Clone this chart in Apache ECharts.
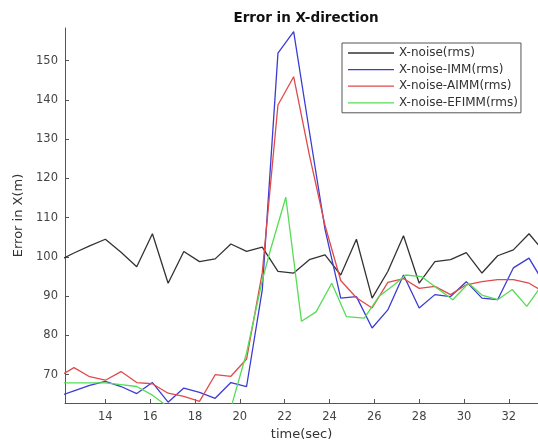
<!DOCTYPE html>
<html>
<head>
<meta charset="utf-8">
<script src="https://cdn.jsdelivr.net/npm/echarts@6/dist/echarts.min.js"></script>
<style>
  html, body { margin: 0; padding: 0; background: #fff; }
  #chart { width: 538px; height: 448px; }
</style>
</head>
<body>
<div id="chart"></div>
<script>
// sample times (sec) shared by the first three curves
var timeSec = [11.9, 12.6, 13.3, 14.0, 14.7, 15.4, 16.1, 16.8, 17.5, 18.2, 18.9, 19.6,
  20.3, 21.0, 21.7, 22.4, 23.1, 23.8, 24.5, 25.2, 25.9, 26.6, 27.3, 28.0, 28.7,
  29.4, 30.1, 30.8, 31.5, 32.2, 32.9, 33.6];

var noiseRms = [99.0, 101.0, 102.8, 104.5, 101.2, 97.5, 105.9, 93.3, 101.4, 98.8, 99.5, 103.3,
  101.4, 102.5, 96.3, 95.9, 99.3, 100.5, 95.4, 104.5, 89.5, 96.3, 105.4, 93.3, 98.8,
  99.3, 101.1, 95.9, 100.3, 101.8, 105.9, 101.1];

var immRms = [64.5, 65.9, 67.3, 68.3, 67.0, 65.2, 68.0, 63.0, 66.6, 65.5, 64.0, 68.0,
  67.0, 91.6, 151.9, 157.4, 132.0, 107.0, 89.5, 89.9, 81.9, 86.5, 95.4, 87.0, 90.4,
  89.9, 93.7, 89.5, 89.1, 97.2, 99.7, 93.0];

var aimmRms = [69.5, 71.8, 69.5, 68.6, 70.8, 68.0, 67.7, 65.3, 64.5, 63.2, 70.0, 69.6,
  74.0, 96.0, 138.7, 145.9, 126.0, 108.0, 94.0, 89.6, 87.0, 93.5, 94.5, 92.0, 92.5,
  90.4, 92.9, 93.7, 94.2, 94.2, 93.3, 91.0];

// EFIMM vertices sit at slightly different times in the picture
var efimmTime = [11.9, 12.6, 13.3, 14.0, 14.7, 15.4, 16.1, 16.8, 17.5, 18.2, 18.9, 19.6,
  20.3, 21.0, 21.35, 22.05, 22.75, 23.4, 24.1, 24.75, 25.55, 26.2, 26.9, 27.4, 28.1,
  28.8, 29.5, 30.2, 30.8, 31.5, 32.15, 32.8, 33.5];
var efimmRms = [67.9, 67.9, 67.9, 67.9, 67.5, 67.0, 64.8, 61.8, 60.5, 60.0, 60.0, 61.5,
  75.6, 94.0, 101.5, 115.2, 83.6, 86.0, 93.3, 84.8, 84.4, 89.9, 93.0, 95.4, 95.0,
  92.0, 89.1, 93.3, 90.3, 89.1, 91.7, 87.4, 93.0];

var xTicks = [14, 16, 18, 20, 22, 24, 26, 28, 30, 32];
var yTicks = [70, 80, 90, 100, 110, 120, 130, 140, 150];

var seriesNames = ["X-noise(rms)", "X-noise-IMM(rms)", "X-noise-AIMM(rms)", "X-noise-EFIMM(rms)"];
var seriesColors = ["#333333", "#3c3cd2", "#e04a4a", "#55dd55"];

function pairs(xs, ys) {
  return xs.map(function (x, i) { return [x, ys[i]]; });
}

var seriesData = [
  pairs(timeSec, noiseRms),
  pairs(timeSec, immRms),
  pairs(timeSec, aimmRms),
  pairs(efimmTime, efimmRms)
];

var chart = echarts.init(document.getElementById("chart"));
var font = "DejaVu Sans";
var axisGray = "#555";

var option = {
  animation: false,
  backgroundColor: "#fff",
  title: {
    text: "Error in X-direction",
    left: 301,
    top: 6,
    textAlign: "center",
    textStyle: { fontFamily: font, fontSize: 13.5, fontWeight: "bold", color: "#111" }
  },
  legend: {
    orient: "vertical",
    left: 342,
    top: 43,
    padding: [4, 3, 4, 6],
    itemGap: 4.6,
    itemWidth: 46,
    itemHeight: 1.3,
    icon: "rect",
    borderColor: axisGray,
    borderWidth: 1,
    backgroundColor: "#fff",
    textStyle: { fontFamily: font, fontSize: 12, lineHeight: 12, color: "#333" },
    data: seriesNames
  },
  grid: { left: 65, right: 0, top: 28, bottom: 45 },
  xAxis: {
    type: "value",
    min: 12.2,
    max: 33.3,
    name: "time(sec)",
    nameLocation: "middle",
    nameGap: 24,
    nameTextStyle: { fontFamily: font, fontSize: 13, color: "#333" },
    axisLine: { lineStyle: { color: axisGray } },
    axisTick: { inside: true, length: 4, customValues: xTicks, lineStyle: { color: axisGray } },
    axisLabel: { customValues: xTicks, fontFamily: font, fontSize: 11.5, color: "#444", margin: 8 },
    splitLine: { show: false }
  },
  yAxis: {
    type: "value",
    min: 62.8,
    max: 158.3,
    name: "Error in X(m)",
    nameLocation: "middle",
    nameRotate: 90,
    nameGap: 35,
    nameTextStyle: { fontFamily: font, fontSize: 13, color: "#333" },
    axisLine: { show: true, lineStyle: { color: axisGray } },
    axisTick: { show: true, inside: true, length: 4, customValues: yTicks, lineStyle: { color: axisGray } },
    axisLabel: { customValues: yTicks, fontFamily: font, fontSize: 11.5, color: "#444", margin: 7 },
    splitLine: { show: false }
  },
  series: seriesNames.map(function (name, i) {
    return {
      name: name,
      type: "line",
      data: seriesData[i],
      symbol: "none",
      clip: true,
      color: seriesColors[i],
      lineStyle: { width: 1.3, color: seriesColors[i] }
    };
  })
};

chart.setOption(option);
</script>
</body>
</html>
